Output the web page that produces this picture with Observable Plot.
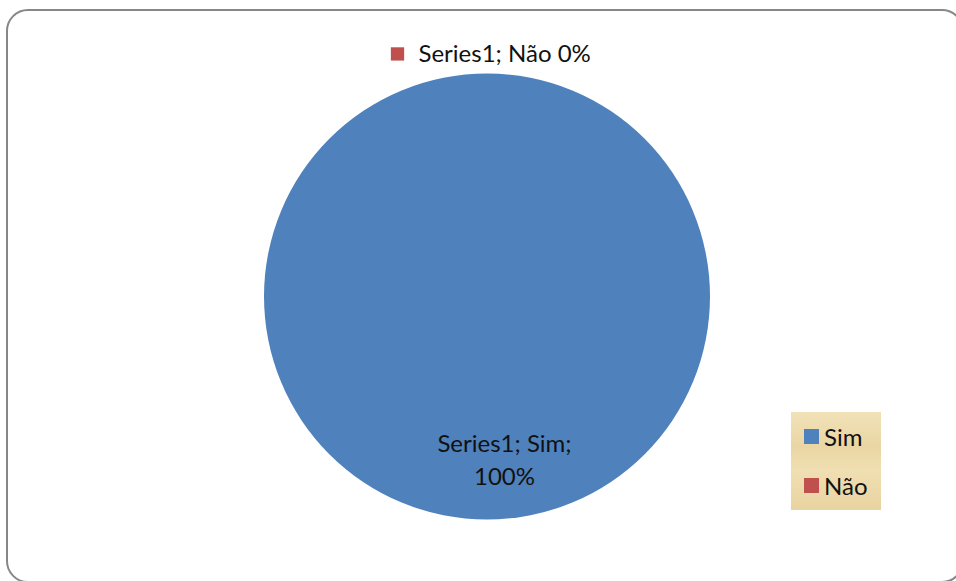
<!DOCTYPE html>
<html>
<head>
<meta charset="utf-8">
<script src="https://cdn.jsdelivr.net/npm/d3@7"></script>
<script src="https://cdn.jsdelivr.net/npm/@observablehq/plot@0.6"></script>
<style>
  html, body { margin: 0; padding: 0; background: #fff; overflow: hidden; }
  #wrap { position: relative; width: 956px; height: 581px; }
  #frame { position: absolute; left: 6px; top: 9px; width: 958px; height: 574px;
           border: 2px solid #878787; border-radius: 22px; box-sizing: border-box; }
  #chart { position: absolute; left: 0; top: 0; }
  #legend { position: absolute; left: 791px; top: 412px; width: 90px; height: 98px;
            background: linear-gradient(180deg, #f1e2b8 0%, #ead6a4 35%, #f0dfb2 60%, #e9d3a0 100%);
            font-family: Lato, "Liberation Sans", sans-serif; font-size: 24px; color: #111;
            box-sizing: border-box; padding-top: 12px; padding-left: 13px; }
  .item { display: flex; align-items: center; height: 25px; margin-bottom: 24px; }
  .sw { width: 15px; height: 15px; margin-right: 5px; }
</style>
</head>
<body>
<div id="wrap">
  <div id="frame"></div>
  <div id="chart"></div>
  <div id="legend"></div>
</div>
<script>
const categories = ["Sim", "Não"];
const values = [100, 0];
const labels = ["Series1; Sim;\n100%", "Series1; Não 0%"];
const colors = ["#4F81BD", "#C0504D"];

const data = categories.map((c, i) => ({category: c, value: values[i], label: labels[i], color: colors[i]}));
const arcs = d3.pie().sort(null).value(d => d.value)(data);
arcs.forEach(a => { a.mid = (a.startAngle + a.endAngle) / 2; });

// label anchor points in pie units (radius = 1), y up
const labelData = arcs.map(a => {
  const inside = a.data.value > 0;
  const r = inside ? 0.72 : 1.09;
  return {...a, lx: Math.sin(a.mid) * r, ly: Math.cos(a.mid) * r, inside};
});

const pieMark = (index, scales) => {
  const cx = scales.x(0), cy = scales.y(0);
  const R = scales.x(1) - scales.x(0);
  const arcGen = d3.arc().innerRadius(0).outerRadius(R);
  const g = d3.create("svg:g").attr("transform", `translate(${cx},${cy})`);
  g.selectAll("path").data(arcs.filter(a => a.data.value > 0)).join("path")
    .attr("d", arcGen).attr("fill", a => a.data.color);
  return g.node();
};

const chart = Plot.plot({
  width: 956,
  height: 581,
  margin: 0,
  x: {domain: [-1, 1], range: [264, 710], axis: null},
  y: {domain: [1, -1], range: [73.5, 519.5], axis: null},
  style: {background: "transparent", fontFamily: "Lato, 'Liberation Sans', sans-serif"},
  marks: [
    pieMark,
    Plot.text(labelData.filter(d => d.inside), {
      x: "lx", y: "ly", text: d => d.data.label, fontSize: 24, fill: "#111",
      lineHeight: 1.38, dx: 17, dy: 0, lineAnchor: "middle"
    }),
    Plot.text(labelData.filter(d => !d.inside), {
      x: "lx", y: "ly", text: d => d.data.label, fontSize: 24, fill: "#111",
      textAnchor: "start", dx: -69, dy: 0
    }),
    Plot.dot(labelData.filter(d => !d.inside), {
      x: "lx", y: "ly", symbol: "square", r: 7.5, fill: d => d.data.color, stroke: null, dx: -90
    })
  ]
});
document.getElementById("chart").appendChild(chart);

const legend = d3.select("#legend");
categories.forEach((c, i) => {
  const it = legend.append("div").attr("class", "item");
  it.append("div").attr("class", "sw").style("background", colors[i]);
  it.append("span").text(c);
});
</script>
</body>
</html>
